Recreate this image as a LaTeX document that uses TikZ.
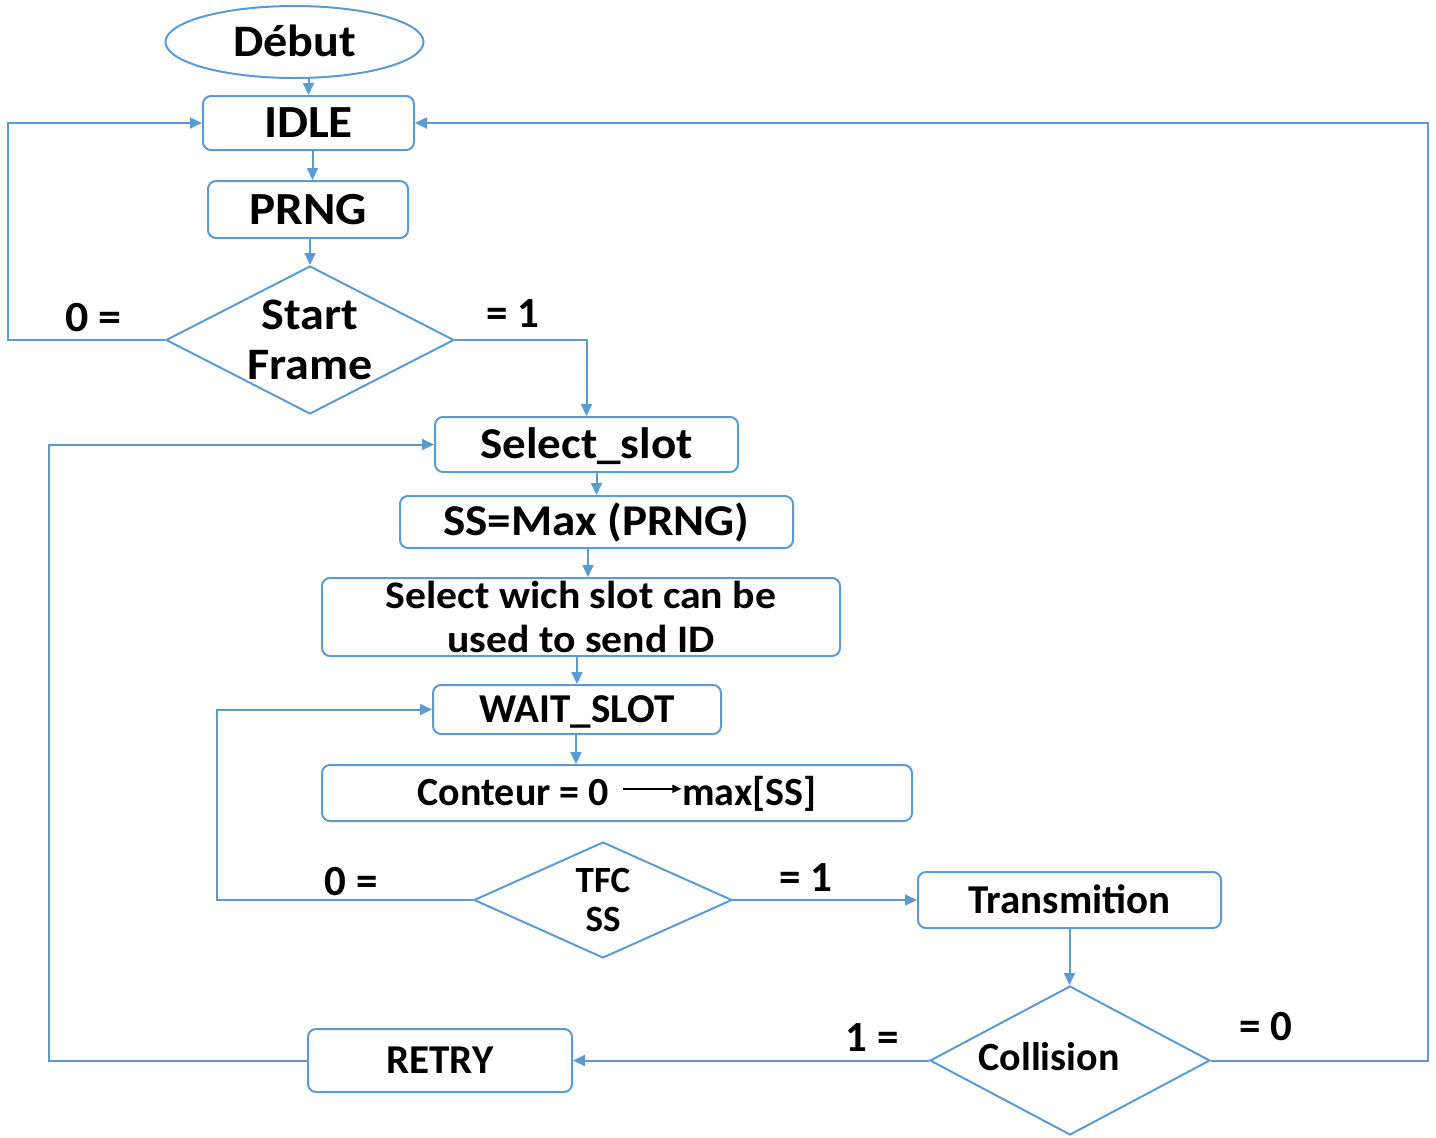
\documentclass[tikz,border=0pt]{standalone}
\usepackage{fontspec}
\setmainfont{Carlito}
\newfontfamily\widefont{Carlito}[FakeStretch=1.07]
\usetikzlibrary{shapes.geometric,arrows.meta}
\definecolor{flowblue}{HTML}{5B9BD5}
% font size + bold in one go
\newcommand\fsz[2]{\fontsize{#1pt}{#2pt}\selectfont\bfseries}
\newcommand\wsz[2]{\widefont\fontsize{#1pt}{#2pt}\selectfont\bfseries}
\tikzset{
  box/.style={draw=flowblue, line width=1pt, rounded corners=4pt, inner sep=0pt, align=center},
  cap/.style={text height=#1, text depth=0pt},
  decision/.style={diamond, draw=flowblue, line width=1pt, inner sep=0pt},
  lbl/.style={inner sep=0pt, align=center},
  conn/.style={draw=flowblue, line width=1pt, -{Triangle[length=6pt,width=5.5pt]}},
}
\begin{document}
\begin{tikzpicture}[x=0.5pt,y=-0.5pt]
\path[use as bounding box] (0,0) rectangle (1436,1137);

% process nodes
\node[ellipse, draw=flowblue, line width=1pt, inner sep=0pt, minimum width=129pt, minimum height=36pt,
      font=\wsz{22.5}{27}, cap=14.2pt] (debut) at (294.5,42) {Début};
\node[box, minimum width=105.5pt, minimum height=27pt, font=\wsz{23}{27}, cap=14.5pt] (idle) at (308.5,123) {IDLE};
\node[box, minimum width=100pt, minimum height=28.5pt, font=\wsz{23}{27}, cap=14.5pt] (prng) at (308,209.5) {PRNG};
\node[decision, minimum width=144pt, minimum height=74pt,
      label={[lbl, font=\wsz{22.5}{25}]center:Start\\Frame}] (sf) at (310,340) {};
\node[box, minimum width=151.5pt, minimum height=27.5pt, font=\wsz{22}{26}, cap=13.9pt] (sel) at (586.5,444.5) {Select\_slot};
\node[box, minimum width=196.5pt, minimum height=26pt, font=\wsz{22}{26}, cap=13.9pt] (ss) at (596.5,522) {SS=Max (PRNG)};
\node[box, minimum width=259pt, minimum height=39pt, font=\wsz{19.5}{22}] (wich) at (581,617) {Select wich slot can be\\used to send ID};
\node[box, minimum width=144pt, minimum height=24.5pt, font=\fsz{20.5}{24}, cap=13pt] (wait) at (577,709.5) {WAIT\_SLOT};
\node[box, minimum width=295pt, minimum height=28pt, font=\fsz{20}{24}, cap=12.6pt] (cont) at (617,793)
  {Conteur = 0\hspace{6.5pt}\tikz[baseline=0pt]\draw[black, line width=0.7pt, -{Triangle[length=4.5pt,width=4pt]}] (0pt,0.42em) -- (1.47em,0.42em);max[SS]};
\node[decision, minimum width=129pt, minimum height=58pt,
      label={[lbl, font=\fsz{18.5}{19.5}]center:TFC\\SS}] (tfc) at (603,900) {};
\node[box, minimum width=151.5pt, minimum height=28pt, font=\fsz{20.5}{24}, cap=13pt] (trans) at (1069.5,900) {Transmition};
\node[decision, minimum width=140pt, minimum height=74.5pt,
      label={[lbl, font=\fsz{20}{24}, cap=12.6pt, xshift=-10.5pt, yshift=1.5pt]center:Collision}] (col) at (1070,1060.5) {};
\node[box, minimum width=132pt, minimum height=31.5pt, font=\fsz{20.5}{24}, cap=13pt] (retry) at (440,1060.5) {RETRY};

% branch values
\node[lbl, font=\wsz{21.5}{24}, cap=13.6pt] (sf0) at (93.5,318) {0 =};
\node[lbl, font=\fsz{21.5}{24}, cap=13.6pt] (sf1) at (513,314) {= 1};
\node[lbl, font=\fsz{21.5}{24}, cap=13.6pt] (tfc0) at (351,882) {0 =};
\node[lbl, font=\fsz{21.5}{24}, cap=13.6pt] (tfc1) at (806,878) {= 1};
\node[lbl, font=\fsz{21.5}{24}, cap=13.6pt] (col1) at (872,1038) {1 =};
\node[lbl, font=\fsz{21.5}{24}, cap=13.6pt] (col0) at (1266,1027) {= 0};

% corner points of the loop-back lines
\coordinate (lx1) at (8,0);
\coordinate (lx2) at (49,0);
\coordinate (lx3) at (217,0);
\coordinate (rx1) at (1428,0);

% main flow
\draw[conn] (idle.north |- debut.south) -- (idle.north);
\draw[conn] ([xshift=2pt]idle.south) -- ([xshift=2pt]idle.south |- prng.north);
\draw[conn] (sf.north |- prng.south) -- (sf.north);
\draw[conn] (sf.east) -| (sel.north);
\draw[conn] (ss.north |- sel.south) -- (ss.north);
\draw[conn] ([xshift=3.5pt]wich.north |- ss.south) -- ([xshift=3.5pt]wich.north);
\draw[conn] (wait.north |- wich.south) -- (wait.north);
\draw[conn] ([xshift=-0.5pt]wait.south) -- ([xshift=-0.5pt]wait.south |- cont.north);
\draw[conn] (tfc.east) -- (trans.west);
\draw[conn] (trans.south) -- (trans.south |- col.north);
\draw[conn] (col.west) -- (retry.east);

% loop-backs
\draw[conn] (sf.west) -- (sf.west -| lx1) -- (lx1 |- idle.west) -- (idle.west);
\draw[conn] (tfc.west) -- (tfc.west -| lx3) -- (lx3 |- wait.west) -- (wait.west);
\draw[conn] (retry.west) -- (retry.west -| lx2) -- (lx2 |- sel.west) -- (sel.west);
\draw[conn] (col.east) -- (col.east -| rx1) -- (rx1 |- idle.east) -- (idle.east);
\end{tikzpicture}
\end{document}
